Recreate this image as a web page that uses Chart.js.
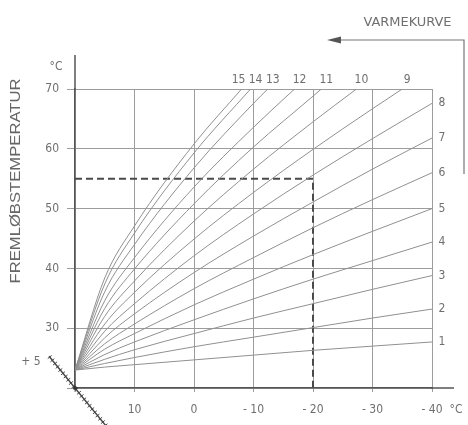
<!DOCTYPE html>
<html>
<head>
<meta charset="utf-8">
<script src="https://cdn.jsdelivr.net/npm/chart.js@4.4.1/dist/chart.umd.min.js"></script>
<style>
html,body{margin:0;padding:0;background:#fff;}
#wrap{width:468px;height:425px;position:relative;}
</style>
</head>
<body>
<div id="wrap"><canvas id="c" width="468" height="425"></canvas></div>
<script>
// Outdoor temperature (°C) at which the curve values are read
const outdoorTemps = [20, 15, 10, 0, -10, -20, -30, -40];
const xTickValues = [20, 10, 0, -10, -20, -30, -40];
const yTickValues = [20, 30, 40, 50, 60, 70];

// Flow temperature (°C) of each heating curve, read at outdoorTemps
const curve1  = [23, 23.5, 23.9, 24.7, 25.5, 26.3, 27.0, 27.7];
const curve2  = [23, 24.1, 25.1, 26.9, 28.5, 30.1, 31.7, 33.2];
const curve3  = [23, 24.8, 26.4, 29.1, 31.7, 34.1, 36.5, 38.8];
const curve4  = [23, 25.6, 27.7, 31.4, 34.9, 38.2, 41.3, 44.4];
const curve5  = [23, 26.5, 29.1, 33.9, 38.2, 42.3, 46.2, 50.0];
const curve6  = [23, 27.4, 30.7, 36.6, 41.8, 46.8, 51.5, 56.0];
const curve7  = [23, 28.4, 32.4, 39.3, 45.4, 51.1, 56.6, 61.8];
const curve8  = [23, 29.5, 34.1, 42.1, 49.1, 55.6, 61.7, 67.6];
const curve9  = [23, 30.7, 36.0, 44.9, 52.7, 59.9, 66.7];
const curve10 = [23, 32.0, 37.9, 47.9, 56.6, 64.5];
const curve11 = [23, 33.3, 39.9, 50.8, 60.3, 68.8];
const curve12 = [23, 34.6, 41.8, 53.6, 63.6];
const curve13 = [23, 36.1, 44.0, 56.8, 67.6];
const curve14 = [23, 37.4, 45.9, 59.3];
const curve15 = [23, 38.4, 47.1, 60.8];
const curveValues = [curve1, curve2, curve3, curve4, curve5, curve6, curve7, curve8,
                     curve9, curve10, curve11, curve12, curve13, curve14, curve15];
const curveNames = ['1','2','3','4','5','6','7','8','9','10','11','12','13','14','15'];
// curves 9..15 end where they reach the top of the chart (70 °C) at these outdoor temps
const topFlow = 70;
const topEndTemps = [null, null, null, null, null, null, null, null, -35, -27.3, -21.4, -16.9, -12.4, -9.5, -8.0];

// example reading: -20 °C outside -> 55 °C flow
const exampleOutdoor = [20, -20, -20];
const exampleFlow = [55, 55, 20];

const FONT = "'Liberation Sans Narrow','DejaVu Sans Condensed','Liberation Sans',sans-serif";
const TXT = '#6f6f6f';

const datasets = curveValues.map((vals, i) => {
  const pts = vals.map((v, k) => ({x: outdoorTemps[k], y: v}));
  if (topEndTemps[i] !== null) pts.push({x: topEndTemps[i], y: topFlow});
  return {
    label: curveNames[i], data: pts,
    borderColor: '#909090', borderWidth: 1, pointRadius: 0,
    cubicInterpolationMode: 'monotone', fill: false
  };
});
datasets.push({
  label: 'example', data: exampleOutdoor.map((t, k) => ({x: t, y: exampleFlow[k]})),
  borderColor: '#4a4a4a', borderWidth: 2, borderDash: [7, 4], pointRadius: 0, tension: 0, fill: false
});

function stretchedText(ctx, text, cx, cy, width) {
  const w = ctx.measureText(text).width;
  ctx.save();
  ctx.translate(cx, cy);
  ctx.scale(width / w, 1);
  ctx.textAlign = 'center'; ctx.textBaseline = 'middle';
  ctx.fillText(text, 0, 0);
  ctx.restore();
}

const decor = {
  id: 'decor',
  afterDraw(chart) {
    const {ctx, chartArea: a, scales: {x, y}} = chart;
    ctx.save();
    // axis extensions
    ctx.strokeStyle = '#555'; ctx.lineWidth = 1.5;
    ctx.beginPath(); ctx.moveTo(a.left, a.top + 1); ctx.lineTo(a.left, a.top - 34); ctx.stroke();
    ctx.beginPath(); ctx.moveTo(a.right - 1, a.bottom); ctx.lineTo(a.right + 22, a.bottom); ctx.stroke();

    ctx.fillStyle = TXT;
    ctx.font = '12px ' + FONT;
    ctx.textAlign = 'center'; ctx.textBaseline = 'middle';
    // curve labels
    chart.data.datasets.forEach((ds, i) => {
      if (i >= curveNames.length) return;
      const last = ds.data[ds.data.length - 1];
      const px = x.getPixelForValue(last.x), py = y.getPixelForValue(last.y);
      if (topEndTemps[i] === null) {
        ctx.fillText(curveNames[i], a.right + 10, py);
      } else {
        const off = curveNames[i] === '15' ? -3 : 5;
        ctx.fillText(curveNames[i], px + off, a.top - 9);
      }
    });
    // units
    ctx.fillText('°C', a.left - 19, a.top - 22);
    ctx.fillText('°C', a.right + 24, a.bottom + 22);
    ctx.fillText('+ 5', 31, 362);

    // VARMEKURVE bracket arrow
    ctx.font = '13px ' + FONT;
    stretchedText(ctx, 'VARMEKURVE', 407.5, 23, 88);
    ctx.strokeStyle = '#777'; ctx.lineWidth = 1.2;
    ctx.beginPath(); ctx.moveTo(338, 40); ctx.lineTo(464, 40); ctx.lineTo(464, 174); ctx.stroke();
    ctx.fillStyle = '#555';
    ctx.beginPath(); ctx.moveTo(327, 40); ctx.lineTo(341, 36.5); ctx.lineTo(341, 43.5); ctx.closePath(); ctx.fill();

    // parallel shift scale (diagonal through the origin)
    const ox = x.getPixelForValue(20), oy = y.getPixelForValue(20);
    const ux = 0.633, uy = 0.774, nx = 0.774, ny = -0.633;
    ctx.strokeStyle = '#444'; ctx.lineWidth = 1.4;
    ctx.beginPath(); ctx.moveTo(ox - 41 * ux, oy - 41 * uy); ctx.lineTo(ox + 50 * ux, oy + 50 * uy); ctx.stroke();
    ctx.lineWidth = 1;
    for (let d = -40; d <= 50; d += 4.2) {
      const cx = ox + d * ux, cy = oy + d * uy;
      ctx.beginPath(); ctx.moveTo(cx - 2.5 * nx, cy - 2.5 * ny); ctx.lineTo(cx + 2.5 * nx, cy + 2.5 * ny); ctx.stroke();
    }
    ctx.fillStyle = '#333';
    ctx.beginPath(); ctx.arc(ox, oy, 2, 0, Math.PI * 2); ctx.fill();

    // y axis title
    ctx.fillStyle = '#666';
    ctx.font = '14px ' + "'Liberation Sans','DejaVu Sans',sans-serif";
    ctx.translate(16, 181); ctx.rotate(-Math.PI / 2);
    stretchedText(ctx, 'FREMLØBSTEMPERATUR', 0, 0, 205);
    ctx.restore();
  }
};

new Chart(document.getElementById('c'), {
  type: 'line',
  data: {datasets},
  options: {
    responsive: false, animation: false, devicePixelRatio: 1,
    layout: {padding: {left: 0, right: 36, top: 89, bottom: 0}},
    plugins: {legend: {display: false}, tooltip: {enabled: false}, title: {display: false}},
    scales: {
      x: {
        type: 'linear', reverse: true, min: -40, max: 20,
        afterBuildTicks: s => { s.ticks = xTickValues.map(v => ({value: v})); },
        ticks: {
          autoSkip: false, maxRotation: 0, color: TXT, padding: 11,
          font: {family: FONT, size: 12},
          callback: v => v === 20 ? '' : (v < 0 ? '- ' + Math.abs(v) : String(v))
        },
        grid: {color: '#9c9c9c', lineWidth: 1, tickLength: 4},
        border: {color: '#555', width: 1.5},
        afterFit: s => { s.height = 37; }
      },
      y: {
        type: 'linear', min: 20, max: 70,
        afterBuildTicks: s => { s.ticks = yTickValues.map(v => ({value: v})); },
        ticks: {
          color: TXT, padding: 8, font: {family: FONT, size: 12},
          callback: v => v === 20 ? '' : String(v)
        },
        grid: {color: '#9c9c9c', lineWidth: 1, tickLength: 8},
        border: {color: '#555', width: 1.5},
        afterFit: s => { s.width = 75; }
      }
    }
  },
  plugins: [decor]
});
</script>
</body>
</html>
